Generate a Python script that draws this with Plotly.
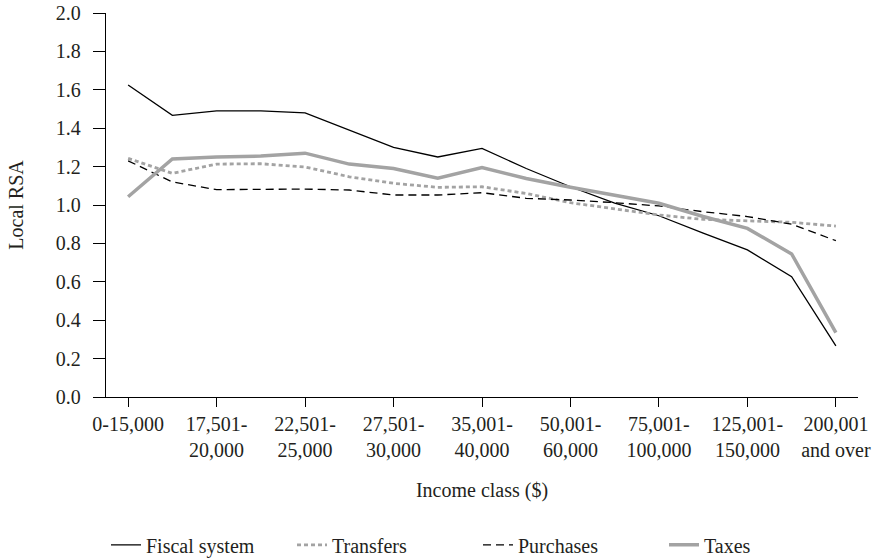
import plotly.graph_objects as go

categories = [
    "0-15,000", "15,001-17,500", "17,501-20,000", "20,001-22,500", "22,501-25,000",
    "25,001-27,500", "27,501-30,000", "30,001-35,000", "35,001-40,000", "40,001-50,000",
    "50,001-60,000", "60,001-75,000", "75,001-100,000", "100,001-125,000",
    "125,001-150,000", "150,001-200,000", "200,001 and over",
]
tick_positions = ["0-15,000", "17,501-20,000", "22,501-25,000", "27,501-30,000",
                  "35,001-40,000", "50,001-60,000", "75,001-100,000",
                  "125,001-150,000", "200,001 and over"]
tick_labels = ["0-15,000", "17,501-<br>20,000", "22,501-<br>25,000", "27,501-<br>30,000",
               "35,001-<br>40,000", "50,001-<br>60,000", "75,001-<br>100,000",
               "125,001-<br>150,000", "200,001<br>and over"]

fiscal_system = [1.625, 1.467, 1.49, 1.49, 1.48, 1.39, 1.30, 1.25, 1.295, 1.19,
                 1.095, 1.01, 0.944, 0.854, 0.766, 0.627, 0.266]
transfers = [1.243, 1.165, 1.213, 1.215, 1.198, 1.147, 1.113, 1.092, 1.095, 1.06,
             1.012, 0.98, 0.948, 0.925, 0.917, 0.91, 0.89]
purchases = [1.23, 1.12, 1.08, 1.08, 1.083, 1.078, 1.052, 1.052, 1.064, 1.035,
             1.026, 1.012, 0.995, 0.965, 0.94, 0.90, 0.814]
taxes = [1.043, 1.24, 1.25, 1.255, 1.27, 1.213, 1.19, 1.14, 1.195, 1.138,
         1.092, 1.052, 1.009, 0.94, 0.878, 0.745, 0.335]

GRAY = "#a3a3a3"
TEXT = "#231f20"
FONT = "Liberation Serif"
FS = 20

fig = go.Figure()
fig.add_trace(go.Scatter(x=categories, y=fiscal_system, name="Fiscal system", mode="lines",
                         line=dict(color="#000000", width=1.3)))
fig.add_trace(go.Scatter(x=categories, y=transfers, name="Transfers", mode="lines",
                         line=dict(color=GRAY, width=2.8, dash="4px,3px")))
fig.add_trace(go.Scatter(x=categories, y=purchases, name="Purchases", mode="lines",
                         line=dict(color="#000000", width=1.3, dash="8px,5px")))
fig.add_trace(go.Scatter(x=categories, y=taxes, name="Taxes", mode="lines",
                         line=dict(color=GRAY, width=3.5)))

fig.update_layout(
    width=878, height=560,
    margin=dict(l=106, r=20, t=13, b=163, autoexpand=False),
    paper_bgcolor="white", plot_bgcolor="white",
    font=dict(family=FONT, size=FS, color=TEXT),
    showlegend=True,
    legend=dict(orientation="h", x=0.0, xanchor="left", y=-0.385, yanchor="middle",
                font=dict(family=FONT, size=FS, color=TEXT),
                entrywidth=141, entrywidthmode="pixels", itemwidth=30),
    xaxis=dict(
        type="category", categoryorder="array", categoryarray=categories,
        range=[-0.5, 16.5], automargin=False,
        tickmode="array", tickvals=tick_positions, ticktext=tick_labels,
        ticks="outside", ticklen=9, tickwidth=1.3, tickcolor="#000",
        showline=True, linecolor="#000", linewidth=1.3,
        showgrid=False, zeroline=False,
        tickfont=dict(family=FONT, size=FS, color=TEXT),
        title=dict(text="Income class ($)", standoff=22,
                   font=dict(family=FONT, size=FS, color=TEXT)),
    ),
    yaxis=dict(
        range=[0, 2.0], tickmode="array", automargin=False,
        tickvals=[0, 0.2, 0.4, 0.6, 0.8, 1.0, 1.2, 1.4, 1.6, 1.8, 2.0],
        ticktext=["0.0", "0.2", "0.4", "0.6", "0.8", "1.0", "1.2", "1.4", "1.6", "1.8", "2.0"],
        ticks="outside", ticklen=12, tickwidth=1.3, tickcolor="#000",
        ticklabelstandoff=8,
        showline=True, linecolor="#000", linewidth=1.3,
        showgrid=False, zeroline=False,
        tickfont=dict(family=FONT, size=FS, color=TEXT),
        title=dict(text="Local RSA", standoff=26,
                   font=dict(family=FONT, size=FS, color=TEXT)),
    ),
)

fig.write_html("out.html", config={"displayModeBar": False},
               post_script="document.body.style.margin='0';")
